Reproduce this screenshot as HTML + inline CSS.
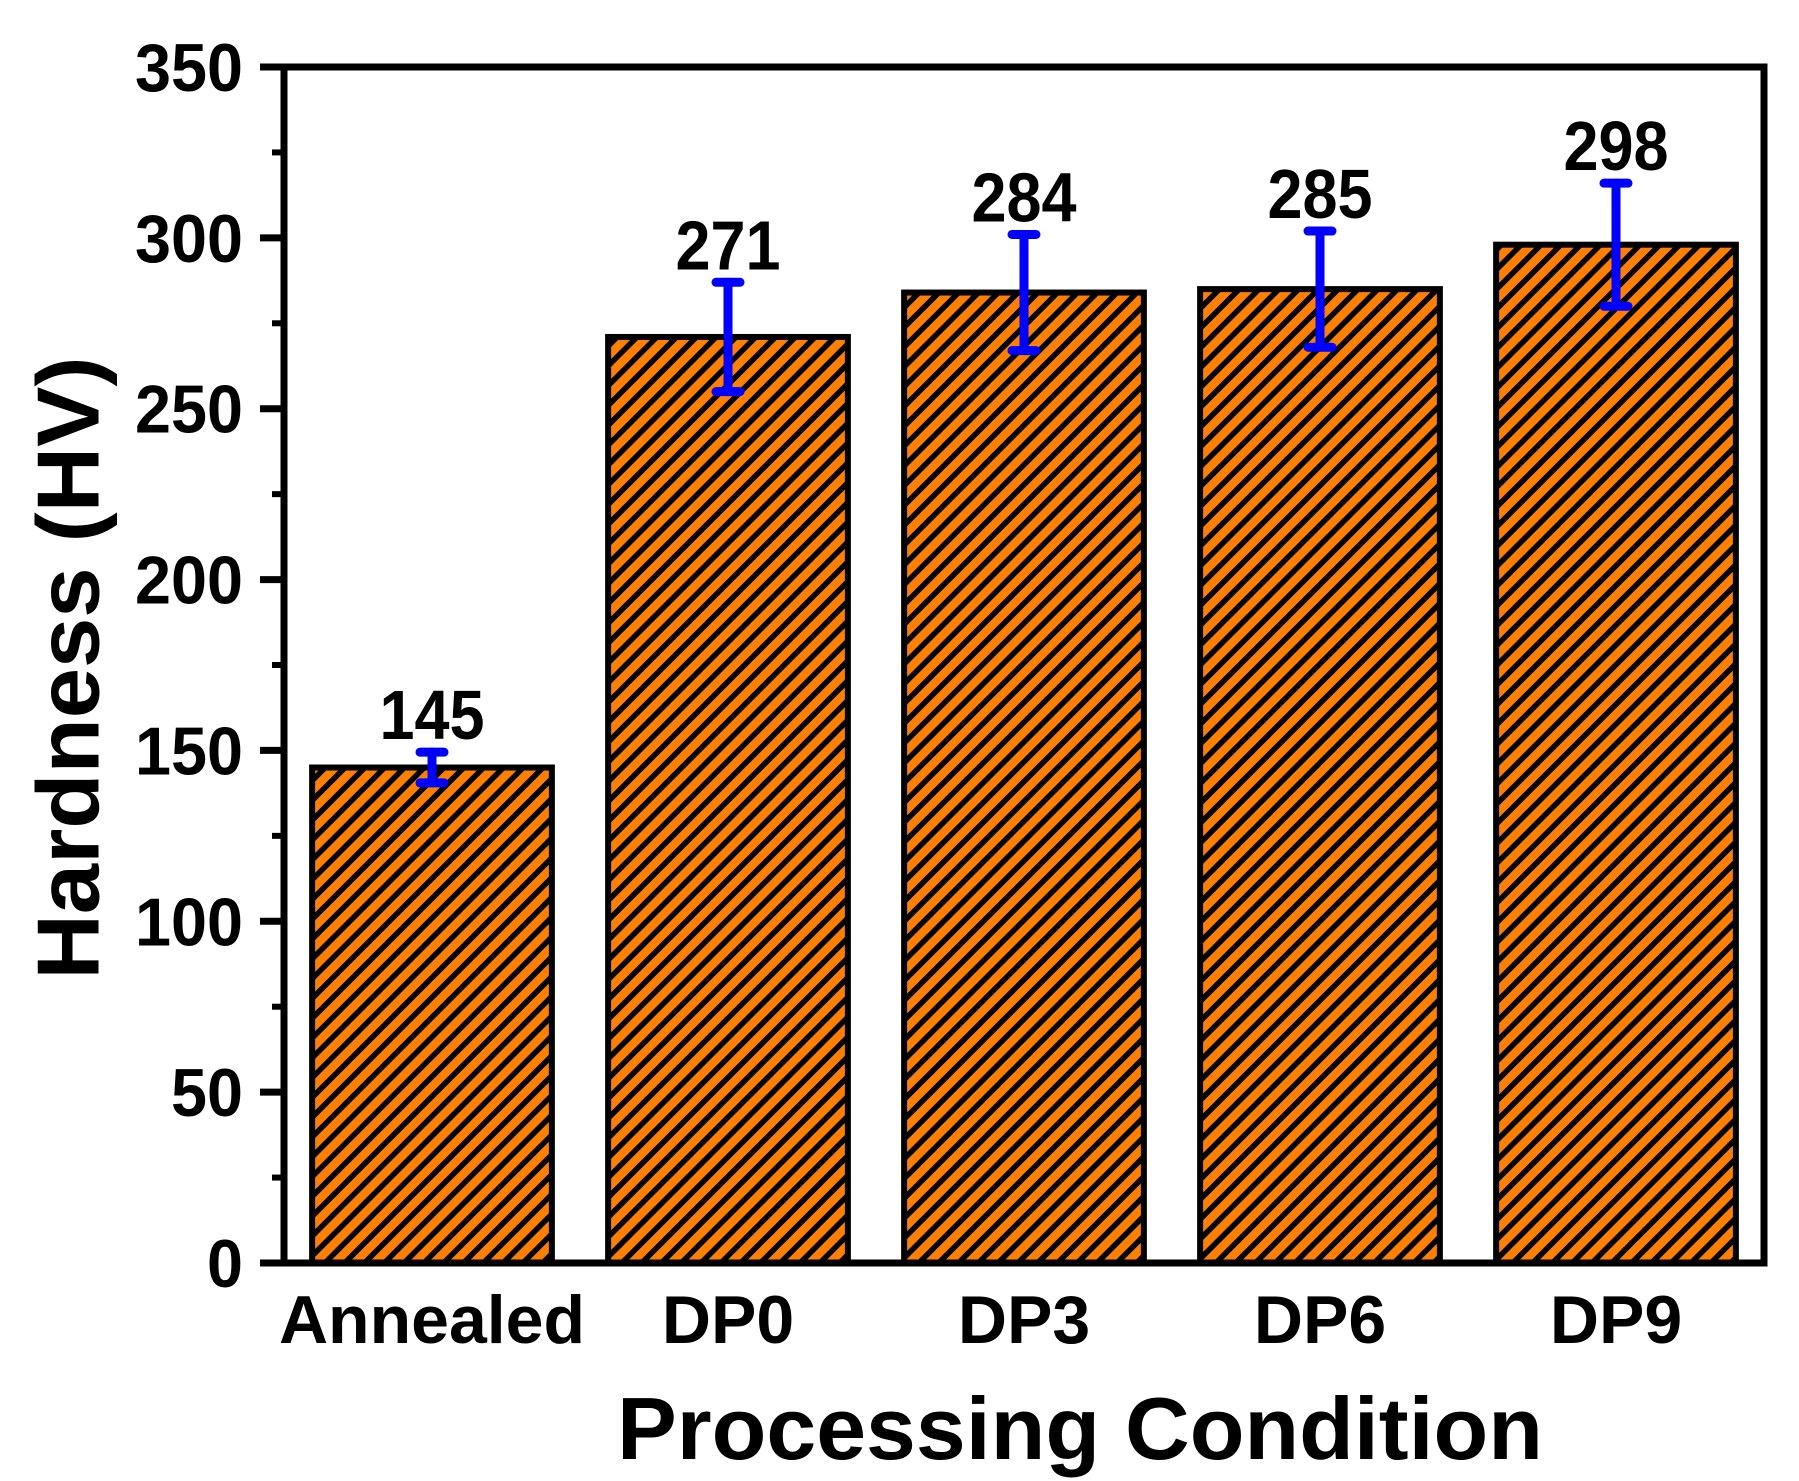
<!DOCTYPE html>
<html><head><meta charset="utf-8"><style>
html,body{margin:0;padding:0;background:#fff}
svg{display:block;font-family:"Liberation Sans",Arial,sans-serif;font-weight:bold}
</style></head><body>
<svg id="chart" width="1799" height="1481" viewBox="0 0 1799 1481" xmlns="http://www.w3.org/2000/svg">
<defs>
<pattern id="hatch" patternUnits="userSpaceOnUse" width="14" height="14" patternTransform="rotate(45)">
<rect width="14" height="14" fill="#FF8000"/>
<rect x="0" y="0" width="5.5" height="14" fill="#000"/>
</pattern>
</defs>
<g id="plot"></g>
<text x="68" y="668" font-size="88" text-anchor="middle" dominant-baseline="central" transform="rotate(-90 68 668)" textLength="623" lengthAdjust="spacingAndGlyphs">Hardness (HV)</text>
<text x="1080" y="1459" font-size="88" text-anchor="middle" textLength="926" lengthAdjust="spacingAndGlyphs">Processing Condition</text>
</svg>
<script>
const categories = ["Annealed","DP0","DP3","DP6","DP9"];
const values = [145,271,284,285,298];
const errors = [4.5,16,17,17,18];
const yTicks = [0,50,100,150,200,250,300,350];

const NS="http://www.w3.org/2000/svg";
const L=284,R=1764,T=67,B=1263;
const yMax=350;
const y=v=>B-(v/yMax)*(B-T);
const x=i=>L+(i+0.5)*(R-L)/categories.length;
const bw=0.81*(R-L)/categories.length;
const g=document.getElementById('plot');
function mk(tag,attrs,parent){const e=document.createElementNS(NS,tag);for(const k in attrs)e.setAttribute(k,attrs[k]);(parent||g).appendChild(e);return e;}

categories.forEach((c,i)=>{
  const b=mk('rect',{x:x(i)-bw/2,y:y(values[i]),width:bw,height:B-y(values[i]),fill:'url(#hatch)',stroke:'#000','stroke-width':6});
  
  
  const eg=mk('g',{stroke:'#0000FF','stroke-width':9,'stroke-linecap':'round'});
  
  
  const t=y(values[i]+errors[i]),bo=y(values[i]-errors[i]);
  mk('line',{x1:x(i),x2:x(i),y1:t,y2:bo},eg);
  mk('line',{x1:x(i)-12,x2:x(i)+12,y1:t,y2:t},eg);
  mk('line',{x1:x(i)-12,x2:x(i)+12,y1:bo,y2:bo},eg);
  const vl=mk('text',{x:x(i),y:t-13,'font-size':70,'text-anchor':'middle',textLength:String(values[i]).length*35,lengthAdjust:'spacingAndGlyphs'});
  vl.textContent=values[i];
  
  
  const xl=mk('text',{x:x(i),y:1343,'font-size':68,'text-anchor':'middle'});
  xl.textContent=c;
  
  
});

const fr=mk('rect',{x:L,y:T,width:R-L,height:B-T,fill:'none',stroke:'#000','stroke-width':7});


yTicks.forEach((v,k)=>{
  const tk=mk('line',{x1:260,x2:L,y1:y(v),y2:y(v),stroke:'#000','stroke-width':7});
  
  
  if(k<yTicks.length-1){
    const m=mk('line',{x1:272,x2:L,y1:y(v+25),y2:y(v+25),stroke:'#000','stroke-width':6});
    
    
  }
  const lb=mk('text',{x:243,y:y(v)+24,'font-size':68,'text-anchor':'end',textLength:String(v).length*36,lengthAdjust:'spacingAndGlyphs'});
  lb.textContent=v;
  
  
});
</script>
</body></html>
